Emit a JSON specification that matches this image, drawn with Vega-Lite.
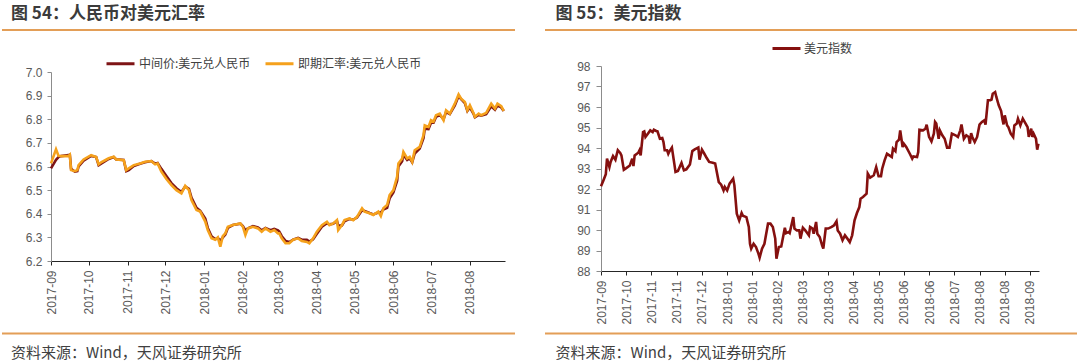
{
  "$schema": "https://vega.github.io/schema/vega-lite/v6.json",
  "padding": 0,
  "background": "white",
  "spacing": 26,
  "config": {
    "view": {"stroke": "transparent"},
    "axis": {"labelFont": "Liberation Sans", "labelFontSize": 12, "labelColor": "#595959", "grid": false, "title": null, "tickSize": 4, "labelPadding": 5},
    "axisX": {"domainColor": "#262626", "tickColor": "#262626"},
    "axisY": {"domainColor": "#8c8c8c", "tickColor": "#8c8c8c"}
  },
  "resolve": {"scale": {"color": "independent"}, "legend": {"color": "independent"}},
  "datasets": {
    "cny": [
      {"date":"2017-09-01","mid":6.592,"spot":6.613},
      {"date":"2017-09-05","mid":6.628,"spot":6.673},
      {"date":"2017-09-07","mid":6.640,"spot":6.645},
      {"date":"2017-09-09","mid":6.644,"spot":6.644},
      {"date":"2017-09-15","mid":6.648,"spot":6.645},
      {"date":"2017-09-16","mid":6.650,"spot":6.650},
      {"date":"2017-09-17","mid":6.590,"spot":6.585},
      {"date":"2017-09-20","mid":6.578,"spot":6.580},
      {"date":"2017-09-22","mid":6.580,"spot":6.585},
      {"date":"2017-09-23","mid":6.600,"spot":6.606},
      {"date":"2017-09-27","mid":6.625,"spot":6.630},
      {"date":"2017-10-03","mid":6.645,"spot":6.648},
      {"date":"2017-10-07","mid":6.640,"spot":6.640},
      {"date":"2017-10-09","mid":6.605,"spot":6.609},
      {"date":"2017-10-11","mid":6.612,"spot":6.618},
      {"date":"2017-10-17","mid":6.632,"spot":6.635},
      {"date":"2017-10-21","mid":6.640,"spot":6.641},
      {"date":"2017-10-23","mid":6.630,"spot":6.630},
      {"date":"2017-10-29","mid":6.628,"spot":6.627},
      {"date":"2017-10-31","mid":6.580,"spot":6.585},
      {"date":"2017-11-02","mid":6.585,"spot":6.592},
      {"date":"2017-11-06","mid":6.602,"spot":6.606},
      {"date":"2017-11-11","mid":6.612,"spot":6.613},
      {"date":"2017-11-15","mid":6.618,"spot":6.620},
      {"date":"2017-11-20","mid":6.623,"spot":6.623},
      {"date":"2017-11-23","mid":6.612,"spot":6.609},
      {"date":"2017-11-25","mid":6.615,"spot":6.613},
      {"date":"2017-11-28","mid":6.590,"spot":6.578},
      {"date":"2017-12-02","mid":6.560,"spot":6.547},
      {"date":"2017-12-06","mid":6.530,"spot":6.521},
      {"date":"2017-12-10","mid":6.508,"spot":6.500},
      {"date":"2017-12-14","mid":6.492,"spot":6.486},
      {"date":"2017-12-17","mid":6.515,"spot":6.518},
      {"date":"2017-12-20","mid":6.505,"spot":6.500},
      {"date":"2017-12-22","mid":6.468,"spot":6.458},
      {"date":"2017-12-26","mid":6.425,"spot":6.416},
      {"date":"2017-12-29","mid":6.412,"spot":6.409},
      {"date":"2018-01-02","mid":6.380,"spot":6.367},
      {"date":"2018-01-04","mid":6.340,"spot":6.331},
      {"date":"2018-01-07","mid":6.305,"spot":6.296},
      {"date":"2018-01-10","mid":6.292,"spot":6.290},
      {"date":"2018-01-12","mid":6.298,"spot":6.300},
      {"date":"2018-01-14","mid":6.285,"spot":6.261},
      {"date":"2018-01-16","mid":6.300,"spot":6.305},
      {"date":"2018-01-18","mid":6.312,"spot":6.317},
      {"date":"2018-01-20","mid":6.340,"spot":6.345},
      {"date":"2018-01-24","mid":6.352,"spot":6.352},
      {"date":"2018-01-30","mid":6.358,"spot":6.359},
      {"date":"2018-02-01","mid":6.348,"spot":6.345},
      {"date":"2018-02-03","mid":6.330,"spot":6.310},
      {"date":"2018-02-05","mid":6.338,"spot":6.338},
      {"date":"2018-02-09","mid":6.348,"spot":6.345},
      {"date":"2018-02-13","mid":6.342,"spot":6.338},
      {"date":"2018-02-16","mid":6.330,"spot":6.324},
      {"date":"2018-02-19","mid":6.340,"spot":6.338},
      {"date":"2018-02-23","mid":6.330,"spot":6.324},
      {"date":"2018-02-26","mid":6.336,"spot":6.331},
      {"date":"2018-03-01","mid":6.330,"spot":6.317},
      {"date":"2018-03-02","mid":6.325,"spot":6.317},
      {"date":"2018-03-04","mid":6.305,"spot":6.296},
      {"date":"2018-03-07","mid":6.285,"spot":6.275},
      {"date":"2018-03-10","mid":6.280,"spot":6.275},
      {"date":"2018-03-13","mid":6.290,"spot":6.290},
      {"date":"2018-03-17","mid":6.298,"spot":6.296},
      {"date":"2018-03-20","mid":6.290,"spot":6.285},
      {"date":"2018-03-24","mid":6.290,"spot":6.281},
      {"date":"2018-03-26","mid":6.282,"spot":6.275},
      {"date":"2018-03-29","mid":6.292,"spot":6.296},
      {"date":"2018-04-01","mid":6.315,"spot":6.324},
      {"date":"2018-04-05","mid":6.345,"spot":6.352},
      {"date":"2018-04-09","mid":6.360,"spot":6.366},
      {"date":"2018-04-11","mid":6.355,"spot":6.352},
      {"date":"2018-04-14","mid":6.358,"spot":6.359},
      {"date":"2018-04-17","mid":6.370,"spot":6.373},
      {"date":"2018-04-18","mid":6.350,"spot":6.331},
      {"date":"2018-04-21","mid":6.350,"spot":6.352},
      {"date":"2018-04-23","mid":6.368,"spot":6.373},
      {"date":"2018-04-27","mid":6.378,"spot":6.380},
      {"date":"2018-04-30","mid":6.375,"spot":6.373},
      {"date":"2018-05-03","mid":6.384,"spot":6.387},
      {"date":"2018-05-07","mid":6.415,"spot":6.423},
      {"date":"2018-05-09","mid":6.412,"spot":6.409},
      {"date":"2018-05-13","mid":6.403,"spot":6.402},
      {"date":"2018-05-16","mid":6.397,"spot":6.395},
      {"date":"2018-05-20","mid":6.405,"spot":6.409},
      {"date":"2018-05-22","mid":6.405,"spot":6.390},
      {"date":"2018-05-24","mid":6.418,"spot":6.423},
      {"date":"2018-05-27","mid":6.425,"spot":6.437},
      {"date":"2018-05-29","mid":6.465,"spot":6.479},
      {"date":"2018-06-01","mid":6.490,"spot":6.500},
      {"date":"2018-06-04","mid":6.540,"spot":6.557},
      {"date":"2018-06-05","mid":6.600,"spot":6.613},
      {"date":"2018-06-08","mid":6.622,"spot":6.634},
      {"date":"2018-06-09","mid":6.650,"spot":6.662},
      {"date":"2018-06-12","mid":6.628,"spot":6.634},
      {"date":"2018-06-14","mid":6.635,"spot":6.641},
      {"date":"2018-06-16","mid":6.618,"spot":6.620},
      {"date":"2018-06-18","mid":6.655,"spot":6.669},
      {"date":"2018-06-22","mid":6.676,"spot":6.683},
      {"date":"2018-06-25","mid":6.720,"spot":6.732},
      {"date":"2018-06-26","mid":6.760,"spot":6.774},
      {"date":"2018-06-29","mid":6.758,"spot":6.767},
      {"date":"2018-07-01","mid":6.785,"spot":6.796},
      {"date":"2018-07-03","mid":6.785,"spot":6.790},
      {"date":"2018-07-05","mid":6.810,"spot":6.817},
      {"date":"2018-07-08","mid":6.818,"spot":6.824},
      {"date":"2018-07-11","mid":6.800,"spot":6.796},
      {"date":"2018-07-13","mid":6.830,"spot":6.838},
      {"date":"2018-07-16","mid":6.822,"spot":6.824},
      {"date":"2018-07-20","mid":6.858,"spot":6.866},
      {"date":"2018-07-23","mid":6.898,"spot":6.905},
      {"date":"2018-07-25","mid":6.885,"spot":6.887},
      {"date":"2018-07-28","mid":6.868,"spot":6.873},
      {"date":"2018-07-30","mid":6.835,"spot":6.838},
      {"date":"2018-08-01","mid":6.850,"spot":6.859},
      {"date":"2018-08-04","mid":6.822,"spot":6.824},
      {"date":"2018-08-05","mid":6.808,"spot":6.810},
      {"date":"2018-08-08","mid":6.818,"spot":6.824},
      {"date":"2018-08-10","mid":6.815,"spot":6.817},
      {"date":"2018-08-14","mid":6.822,"spot":6.827},
      {"date":"2018-08-18","mid":6.855,"spot":6.866},
      {"date":"2018-08-21","mid":6.840,"spot":6.845},
      {"date":"2018-08-23","mid":6.858,"spot":6.866},
      {"date":"2018-08-26","mid":6.850,"spot":6.855},
      {"date":"2018-08-28","mid":6.835,"spot":6.835}
    ],
    "dxy": [
      {"date":"2017-09-22","v":92.13},{"date":"2017-09-24","v":92.42},{"date":"2017-09-26","v":92.72},{"date":"2017-09-27","v":93.48},
      {"date":"2017-09-29","v":93.07},{"date":"2017-09-30","v":93.32},{"date":"2017-10-02","v":93.61},{"date":"2017-10-04","v":93.43},
      {"date":"2017-10-06","v":93.89},{"date":"2017-10-08","v":93.76},{"date":"2017-10-09","v":93.64},{"date":"2017-10-11","v":92.94},
      {"date":"2017-10-13","v":93.02},{"date":"2017-10-16","v":93.15},{"date":"2017-10-18","v":93.48},{"date":"2017-10-19","v":93.12},
      {"date":"2017-10-20","v":93.64},{"date":"2017-10-23","v":93.77},{"date":"2017-10-24","v":93.89},{"date":"2017-10-25","v":93.64},
      {"date":"2017-10-27","v":94.78},{"date":"2017-10-28","v":94.81},{"date":"2017-10-29","v":94.54},{"date":"2017-10-31","v":94.70},
      {"date":"2017-11-02","v":94.86},{"date":"2017-11-04","v":94.78},{"date":"2017-11-05","v":94.89},{"date":"2017-11-07","v":94.83},
      {"date":"2017-11-08","v":94.81},{"date":"2017-11-10","v":94.46},{"date":"2017-11-12","v":94.49},{"date":"2017-11-13","v":94.29},
      {"date":"2017-11-14","v":93.89},{"date":"2017-11-16","v":93.89},{"date":"2017-11-17","v":93.72},{"date":"2017-11-18","v":93.84},
      {"date":"2017-11-20","v":94.02},{"date":"2017-11-22","v":93.24},{"date":"2017-11-23","v":92.83},{"date":"2017-11-25","v":92.88},
      {"date":"2017-11-28","v":93.27},{"date":"2017-11-30","v":92.91},{"date":"2017-12-02","v":92.96},{"date":"2017-12-05","v":93.20},
      {"date":"2017-12-07","v":93.85},{"date":"2017-12-09","v":93.93},{"date":"2017-12-12","v":94.02},{"date":"2017-12-13","v":93.43},
      {"date":"2017-12-15","v":93.92},{"date":"2017-12-17","v":93.72},{"date":"2017-12-19","v":93.51},{"date":"2017-12-21","v":93.32},
      {"date":"2017-12-24","v":93.28},{"date":"2017-12-26","v":93.24},{"date":"2017-12-29","v":92.34},{"date":"2017-12-31","v":92.21},
      {"date":"2018-01-02","v":91.93},{"date":"2018-01-03","v":92.10},{"date":"2018-01-05","v":91.93},{"date":"2018-01-07","v":92.26},
      {"date":"2018-01-10","v":92.50},{"date":"2018-01-11","v":92.18},{"date":"2018-01-13","v":90.80},{"date":"2018-01-15","v":90.47},
      {"date":"2018-01-17","v":90.83},{"date":"2018-01-18","v":90.70},{"date":"2018-01-21","v":90.63},{"date":"2018-01-23","v":90.15},
      {"date":"2018-01-24","v":89.33},{"date":"2018-01-25","v":89.09},{"date":"2018-01-27","v":89.33},{"date":"2018-01-29","v":89.17},
      {"date":"2018-01-31","v":88.85},{"date":"2018-02-01","v":88.65},{"date":"2018-02-03","v":89.09},{"date":"2018-02-05","v":89.33},
      {"date":"2018-02-06","v":89.66},{"date":"2018-02-08","v":90.31},{"date":"2018-02-10","v":90.31},{"date":"2018-02-12","v":90.15},
      {"date":"2018-02-14","v":89.58},{"date":"2018-02-15","v":88.60},{"date":"2018-02-17","v":89.17},{"date":"2018-02-19","v":89.20},
      {"date":"2018-02-20","v":89.50},{"date":"2018-02-22","v":90.11},{"date":"2018-02-23","v":89.85},{"date":"2018-02-25","v":89.90},
      {"date":"2018-02-26","v":89.85},{"date":"2018-03-01","v":90.63},{"date":"2018-03-02","v":90.07},{"date":"2018-03-04","v":89.98},
      {"date":"2018-03-06","v":89.98},{"date":"2018-03-07","v":89.58},{"date":"2018-03-09","v":90.11},{"date":"2018-03-11","v":89.98},
      {"date":"2018-03-12","v":89.90},{"date":"2018-03-14","v":89.74},{"date":"2018-03-15","v":90.15},{"date":"2018-03-17","v":90.07},
      {"date":"2018-03-18","v":89.82},{"date":"2018-03-20","v":90.39},{"date":"2018-03-21","v":89.82},{"date":"2018-03-23","v":89.66},
      {"date":"2018-03-25","v":89.25},{"date":"2018-03-26","v":89.09},{"date":"2018-03-28","v":90.07},{"date":"2018-03-30","v":90.07},
      {"date":"2018-04-02","v":90.15},{"date":"2018-04-04","v":90.23},{"date":"2018-04-06","v":90.42},{"date":"2018-04-07","v":89.98},
      {"date":"2018-04-09","v":89.82},{"date":"2018-04-11","v":89.50},{"date":"2018-04-13","v":89.74},{"date":"2018-04-15","v":89.58},
      {"date":"2018-04-17","v":89.41},{"date":"2018-04-19","v":89.74},{"date":"2018-04-21","v":90.47},{"date":"2018-04-23","v":90.83},
      {"date":"2018-04-25","v":91.12},{"date":"2018-04-26","v":91.53},{"date":"2018-04-28","v":91.61},{"date":"2018-05-01","v":91.77},
      {"date":"2018-05-02","v":92.75},{"date":"2018-05-04","v":92.55},{"date":"2018-05-07","v":92.67},{"date":"2018-05-09","v":93.07},
      {"date":"2018-05-11","v":92.62},{"date":"2018-05-13","v":92.62},{"date":"2018-05-14","v":92.99},{"date":"2018-05-16","v":93.40},
      {"date":"2018-05-18","v":93.72},{"date":"2018-05-20","v":93.64},{"date":"2018-05-22","v":93.56},{"date":"2018-05-23","v":93.97},
      {"date":"2018-05-25","v":93.85},{"date":"2018-05-26","v":94.29},{"date":"2018-05-28","v":94.41},{"date":"2018-05-29","v":94.86},
      {"date":"2018-05-31","v":94.05},{"date":"2018-06-01","v":94.21},{"date":"2018-06-03","v":94.05},{"date":"2018-06-06","v":93.72},
      {"date":"2018-06-08","v":93.48},{"date":"2018-06-09","v":93.59},{"date":"2018-06-12","v":93.56},{"date":"2018-06-13","v":93.80},
      {"date":"2018-06-14","v":94.89},{"date":"2018-06-17","v":94.86},{"date":"2018-06-19","v":94.94},{"date":"2018-06-20","v":95.14},
      {"date":"2018-06-22","v":94.54},{"date":"2018-06-24","v":94.32},{"date":"2018-06-26","v":94.70},{"date":"2018-06-27","v":95.27},
      {"date":"2018-06-28","v":95.19},{"date":"2018-06-30","v":94.45},{"date":"2018-07-01","v":94.86},{"date":"2018-07-03","v":94.62},
      {"date":"2018-07-05","v":94.45},{"date":"2018-07-07","v":94.02},{"date":"2018-07-09","v":94.02},{"date":"2018-07-11","v":94.70},
      {"date":"2018-07-14","v":94.62},{"date":"2018-07-16","v":94.54},{"date":"2018-07-18","v":94.86},{"date":"2018-07-19","v":95.15},
      {"date":"2018-07-21","v":94.45},{"date":"2018-07-23","v":94.62},{"date":"2018-07-25","v":94.54},{"date":"2018-07-26","v":94.21},
      {"date":"2018-07-27","v":94.73},{"date":"2018-07-28","v":94.54},{"date":"2018-07-30","v":94.29},{"date":"2018-08-01","v":94.54},
      {"date":"2018-08-03","v":95.14},{"date":"2018-08-05","v":95.27},{"date":"2018-08-07","v":95.35},{"date":"2018-08-08","v":95.14},
      {"date":"2018-08-10","v":96.33},{"date":"2018-08-12","v":96.33},{"date":"2018-08-13","v":96.36},{"date":"2018-08-14","v":96.65},
      {"date":"2018-08-16","v":96.73},{"date":"2018-08-17","v":96.49},{"date":"2018-08-19","v":96.08},{"date":"2018-08-21","v":95.80},
      {"date":"2018-08-22","v":95.43},{"date":"2018-08-23","v":95.15},{"date":"2018-08-24","v":95.59},{"date":"2018-08-26","v":95.10},
      {"date":"2018-08-27","v":95.02},{"date":"2018-08-29","v":94.70},{"date":"2018-08-31","v":94.54},{"date":"2018-09-01","v":95.10},
      {"date":"2018-09-03","v":95.19},{"date":"2018-09-04","v":95.43},{"date":"2018-09-06","v":95.10},{"date":"2018-09-08","v":95.43},
      {"date":"2018-09-10","v":95.22},{"date":"2018-09-12","v":95.02},{"date":"2018-09-13","v":94.54},{"date":"2018-09-15","v":94.94},
      {"date":"2018-09-16","v":94.54},{"date":"2018-09-17","v":94.70},{"date":"2018-09-19","v":94.45},{"date":"2018-09-20","v":93.92},
      {"date":"2018-09-21","v":94.21}
    ]
  },
  "hconcat": [
    {
      "spacing": 0,
      "resolve": {"scale": {"color": "independent"}, "legend": {"color": "independent"}},
      "vconcat": [
        {
          "width": 454, "height": 45,
          "data": {"values": [{"t": "图 54：人民币对美元汇率", "a": -49, "b": 464}]},
          "layer": [
            {"mark": {"type": "rule", "color": "#E39E57", "strokeWidth": 2},
             "encoding": {
               "x": {"field": "a", "type": "quantitative", "scale": {"domain": [0, 454], "nice": false, "zero": false}, "axis": null},
               "x2": {"field": "b"},
               "y": {"datum": 29, "type": "quantitative", "scale": {"domain": [45, 0], "nice": false, "zero": false}, "axis": null}}},
            {"mark": {"type": "text", "align": "left", "baseline": "alphabetic", "font": "Noto Sans CJK SC", "fontSize": 17, "fontWeight": "bold", "color": "#3b3b3b"},
             "encoding": {"text": {"field": "t"},
               "x": {"datum": -40, "type": "quantitative", "axis": null},
               "y": {"datum": 18, "type": "quantitative", "axis": null}}}
          ]
        },
        {
          "width": 454, "height": 189,
          "data": {"name": "cny"},
          "transform": [{"fold": ["mid", "spot"], "as": ["series", "value"]}],
          "mark": {"type": "line", "strokeWidth": 2.6},
          "encoding": {
            "x": {"field": "date", "type": "temporal",
              "scale": {"type": "utc", "domain": [{"year": 2017, "month": 9, "date": 1, "utc": true}, {"year": 2018, "month": 8, "date": 29, "utc": true}]},
              "axis": {"format": "%Y-%m", "labelAngle": -90, "minExtent": 60, "maxExtent": 60,
                "values": [
                  {"year": 2017, "month": 9, "date": 1, "utc": true}, {"year": 2017, "month": 10, "date": 1, "utc": true},
                  {"year": 2017, "month": 11, "date": 1, "utc": true}, {"year": 2017, "month": 12, "date": 1, "utc": true},
                  {"year": 2018, "month": 1, "date": 1, "utc": true}, {"year": 2018, "month": 2, "date": 1, "utc": true},
                  {"year": 2018, "month": 3, "date": 1, "utc": true}, {"year": 2018, "month": 4, "date": 1, "utc": true},
                  {"year": 2018, "month": 5, "date": 1, "utc": true}, {"year": 2018, "month": 6, "date": 1, "utc": true},
                  {"year": 2018, "month": 7, "date": 1, "utc": true}, {"year": 2018, "month": 8, "date": 1, "utc": true}
                ]}},
            "y": {"field": "value", "type": "quantitative",
              "scale": {"domain": [6.2, 7.0], "nice": false, "zero": false},
              "axis": {"values": [6.2, 6.3, 6.4, 6.5, 6.6, 6.7, 6.8, 6.9, 7.0], "format": ".1f", "minExtent": 49, "maxExtent": 49}},
            "color": {"field": "series", "type": "nominal",
              "scale": {"domain": ["mid", "spot"], "range": ["#7E1416", "#F5A11C"]},
              "legend": {"orient": "none", "legendX": 54, "legendY": -24, "direction": "horizontal", "title": null,
                "symbolType": "stroke", "symbolSize": 784, "symbolStrokeWidth": 3, "labelFont": "Noto Sans CJK SC",
                "labelFontSize": 12, "labelColor": "#404040", "columnPadding": 8, "labelOffset": 3, "padding": 0,
                "labelExpr": "datum.value === 'mid' ? '中间价:美元兑人民币' : '即期汇率:美元兑人民币'"}}
          }
        },
        {
          "width": 454, "height": 38,
          "data": {"values": [{"t": "资料来源：Wind，天风证券研究所", "a": -49, "b": 464}]},
          "layer": [
            {"mark": {"type": "rule", "color": "#E39E57", "strokeWidth": 2},
             "encoding": {
               "x": {"field": "a", "type": "quantitative", "scale": {"domain": [0, 454], "nice": false, "zero": false}, "axis": null},
               "x2": {"field": "b"},
               "y": {"datum": 10.5, "type": "quantitative", "scale": {"domain": [38, 0], "nice": false, "zero": false}, "axis": null}}},
            {"mark": {"type": "text", "align": "left", "baseline": "alphabetic", "font": "Noto Sans CJK SC", "fontSize": 15, "color": "#404040"},
             "encoding": {"text": {"field": "t"},
               "x": {"datum": -40, "type": "quantitative", "axis": null},
               "y": {"datum": 34.5, "type": "quantitative", "axis": null}}}
          ]
        }
      ]
    },
    {
      "spacing": 0,
      "resolve": {"scale": {"color": "independent"}, "legend": {"color": "independent"}},
      "vconcat": [
        {
          "width": 438, "height": 30,
          "data": {"values": [{"t": "图 55：美元指数", "a": -56, "b": 476}]},
          "layer": [
            {"mark": {"type": "rule", "color": "#E39E57", "strokeWidth": 2},
             "encoding": {
               "x": {"field": "a", "type": "quantitative", "scale": {"domain": [0, 438], "nice": false, "zero": false}, "axis": null},
               "x2": {"field": "b"},
               "y": {"datum": 29, "type": "quantitative", "scale": {"domain": [30, 0], "nice": false, "zero": false}, "axis": null}}},
            {"mark": {"type": "text", "align": "left", "baseline": "alphabetic", "font": "Noto Sans CJK SC", "fontSize": 17, "fontWeight": "bold", "color": "#3b3b3b"},
             "encoding": {"text": {"field": "t"},
               "x": {"datum": -45.5, "type": "quantitative", "axis": null},
               "y": {"datum": 18, "type": "quantitative", "axis": null}}}
          ]
        },
        {
          "width": 438, "height": 205,
          "data": {"name": "dxy"},
          "mark": {"type": "line", "strokeWidth": 2.6},
          "encoding": {
            "x": {"field": "date", "type": "temporal",
              "scale": {"type": "utc", "domain": [{"year": 2017, "month": 9, "date": 22, "utc": true}, {"year": 2018, "month": 9, "date": 21, "hours": 12, "utc": true}]},
              "axis": {"format": "%Y-%m", "labelAngle": -90, "minExtent": 56, "maxExtent": 56,
                "values": [
                  {"year": 2017, "month": 9, "date": 22, "utc": true}, {"year": 2017, "month": 10, "date": 13, "utc": true},
                  {"year": 2017, "month": 11, "date": 3, "utc": true}, {"year": 2017, "month": 11, "date": 24, "utc": true},
                  {"year": 2017, "month": 12, "date": 15, "utc": true}, {"year": 2018, "month": 1, "date": 5, "utc": true},
                  {"year": 2018, "month": 1, "date": 26, "utc": true}, {"year": 2018, "month": 2, "date": 16, "utc": true},
                  {"year": 2018, "month": 3, "date": 9, "utc": true}, {"year": 2018, "month": 3, "date": 30, "utc": true},
                  {"year": 2018, "month": 4, "date": 20, "utc": true}, {"year": 2018, "month": 5, "date": 11, "utc": true},
                  {"year": 2018, "month": 6, "date": 1, "utc": true}, {"year": 2018, "month": 6, "date": 22, "utc": true},
                  {"year": 2018, "month": 7, "date": 13, "utc": true}, {"year": 2018, "month": 8, "date": 3, "utc": true},
                  {"year": 2018, "month": 8, "date": 24, "utc": true}, {"year": 2018, "month": 9, "date": 14, "utc": true}
                ]}},
            "y": {"field": "v", "type": "quantitative",
              "scale": {"domain": [88, 98], "nice": false, "zero": false},
              "axis": {"values": [88, 89, 90, 91, 92, 93, 94, 95, 96, 97, 98], "tickSize": 5, "labelPadding": 6, "minExtent": 56, "maxExtent": 56}},
            "color": {"datum": "美元指数", "type": "nominal",
              "scale": {"domain": ["美元指数"], "range": ["#85100F"]},
              "legend": {"orient": "none", "legendX": 170, "legendY": -33, "direction": "horizontal", "title": null,
                "symbolType": "stroke", "symbolSize": 784, "symbolStrokeWidth": 3, "labelFont": "Noto Sans CJK SC",
                "labelFontSize": 12, "labelColor": "#404040", "labelOffset": 2, "padding": 0}}
          }
        },
        {
          "width": 438, "height": 33,
          "data": {"values": [{"t": "资料来源：Wind，天风证券研究所", "a": -56, "b": 476}]},
          "layer": [
            {"mark": {"type": "rule", "color": "#E39E57", "strokeWidth": 2},
             "encoding": {
               "x": {"field": "a", "type": "quantitative", "scale": {"domain": [0, 438], "nice": false, "zero": false}, "axis": null},
               "x2": {"field": "b"},
               "y": {"datum": 4.5, "type": "quantitative", "scale": {"domain": [33, 0], "nice": false, "zero": false}, "axis": null}}},
            {"mark": {"type": "text", "align": "left", "baseline": "alphabetic", "font": "Noto Sans CJK SC", "fontSize": 15, "color": "#404040"},
             "encoding": {"text": {"field": "t"},
               "x": {"datum": -45.5, "type": "quantitative", "axis": null},
               "y": {"datum": 29, "type": "quantitative", "axis": null}}}
          ]
        }
      ]
    }
  ]
}
